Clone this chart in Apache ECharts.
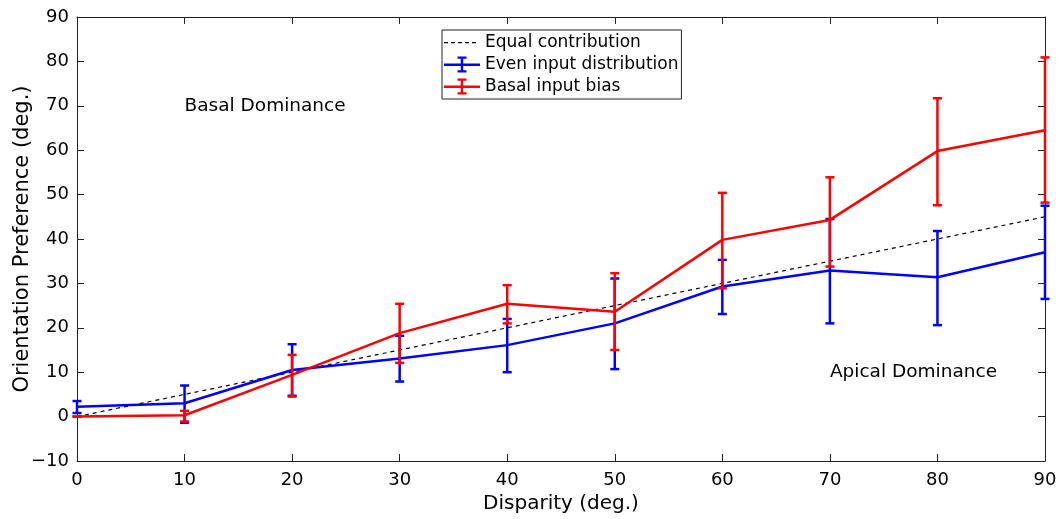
<!DOCTYPE html>
<html>
<head>
<meta charset="utf-8">
<script src="https://cdn.jsdelivr.net/npm/echarts@6/dist/echarts.min.js"></script>
<style>html,body{margin:0;padding:0;background:#fff;}#c{width:1060px;height:519px;}</style>
</head>
<body>
<div id="c"></div>
<script>
var disparity = [0, 10, 20, 30, 40, 50, 60, 70, 80, 90];
var equalLine = [0, 5, 10, 15, 20, 25, 30, 35, 40, 45];
var evenMean = [2.2, 3.0, 10.5, 13.1, 16.1, 21.0, 29.3, 32.9, 31.4, 37.0];
var evenLow  = [0.8, -1.4, 4.7, 7.9, 10.0, 10.7, 23.1, 21.0, 20.6, 26.5];
var evenHigh = [3.5, 7.0, 16.3, 18.2, 22.0, 31.1, 35.3, 44.5, 41.8, 47.5];
var basalMean = [0.0, 0.3, 9.4, 18.8, 25.4, 23.6, 39.8, 44.3, 59.8, 64.5];
var basalLow  = [0.0, -1.1, 4.5, 12.1, 21.0, 15.0, 28.9, 33.8, 47.6, 48.2];
var basalHigh = [0.0, 1.3, 13.9, 25.4, 29.6, 32.3, 50.4, 53.9, 71.7, 80.9];
var annotations = [
  {text: 'Basal Dominance', x: 10, y: 70},
  {text: 'Apical Dominance', x: 70, y: 10}
];

var FONT = 'DejaVu Sans';
function pairs(ys) { return disparity.map(function (x, i) { return [x, ys[i]]; }); }
function errData(lo, hi) { return disparity.map(function (x, i) { return [x, lo[i], hi[i]]; }); }
function errRender(color) {
  return function (params, api) {
    var x = api.value(0);
    var lo = api.coord([x, api.value(1)]);
    var hi = api.coord([x, api.value(2)]);
    var cap = 4.5;
    var st = {stroke: color, lineWidth: 2.5};
    return {
      type: 'group',
      children: [
        {type: 'line', shape: {x1: lo[0], y1: lo[1], x2: hi[0], y2: hi[1]}, style: st},
        {type: 'line', shape: {x1: lo[0] - cap, y1: lo[1], x2: lo[0] + cap, y2: lo[1]}, style: st},
        {type: 'line', shape: {x1: hi[0] - cap, y1: hi[1], x2: hi[0] + cap, y2: hi[1]}, style: st}
      ]
    };
  };
}
var errIcon = 'path://M0,7h36v2.4h-36z M16.8,0h2.4v16h-2.4z M13.5,0h9v2.2h-9z M13.5,13.8h9v2.2h-9z';
var dashIcon = 'path://M0,0h0.01v0.01h-0.01z M35.99,15.99h0.01v0.01h-0.01z M0,7.4h4v1.3h-4z M7,7.4h4v1.3h-4z M14,7.4h4v1.3h-4z M21,7.4h4v1.3h-4z M28,7.4h4v1.3h-4z';
var minus = function (v) { return String(v).replace('-', '\u2212'); };

var axisCommon = {
  axisLine: {show: true, onZero: false, lineStyle: {color: '#222', width: 1}},
  axisTick: {show: true, inside: true, length: 7, lineStyle: {color: '#222'}},
  splitLine: {show: false}
};

var chart = echarts.init(document.getElementById('c'), null, {renderer: 'canvas'});
chart.setOption({
  animation: false,
  backgroundColor: '#fff',
  textStyle: {fontFamily: FONT},
  grid: {left: 77, right: 15, top: 17, bottom: 58, containLabel: false, outerBoundsMode: 'none'},
  legend: {
    left: 442, top: 30, orient: 'vertical',
    backgroundColor: '#fff', borderColor: '#222', borderWidth: 1,
    padding: [4, 3, 4, 2], itemWidth: 36, itemHeight: 16, itemGap: 5,
    textStyle: {fontFamily: FONT, fontSize: 17, color: '#000'},
    data: [
      {name: 'Equal contribution', icon: dashIcon},
      {name: 'Even input distribution', icon: errIcon},
      {name: 'Basal input bias', icon: errIcon}
    ]
  },
  xAxis: [
    Object.assign({type: 'value', min: 0, max: 90, interval: 10, position: 'bottom',
      name: 'Disparity (deg.)', nameLocation: 'middle', nameGap: 33, nameMoveOverlap: false,
      nameTextStyle: {fontFamily: FONT, fontSize: 20, color: '#000'},
      axisLabel: {fontFamily: FONT, fontSize: 18, color: '#000', margin: 10}}, axisCommon),
    Object.assign({type: 'value', min: 0, max: 90, interval: 10, position: 'top',
      axisLabel: {show: false}}, axisCommon)
  ],
  yAxis: [
    Object.assign({type: 'value', min: -10, max: 90, interval: 10, position: 'left',
      name: 'Orientation Preference (deg.)', nameLocation: 'middle', nameGap: 44, nameMoveOverlap: false,
      nameTextStyle: {fontFamily: FONT, fontSize: 21, color: '#000'},
      axisLabel: {fontFamily: FONT, fontSize: 18, color: '#000', margin: 8, formatter: minus}}, axisCommon),
    Object.assign({type: 'value', min: -10, max: 90, interval: 10, position: 'right',
      axisLabel: {show: false}}, axisCommon)
  ],
  series: [
    {
      name: 'Equal contribution', type: 'line', data: pairs(equalLine), symbol: 'none',
      lineStyle: {color: '#000', width: 1.2, type: [4, 4]}, itemStyle: {color: '#000'}, z: 2,
      markPoint: {
        symbol: 'rect', symbolSize: 0,
        label: {show: true, position: 'right', distance: 0, fontFamily: FONT, fontSize: 18.5, color: '#000'},
        data: annotations.map(function (a) { return {coord: [a.x, a.y], value: a.text, label: {formatter: a.text}}; })
      }
    },
    {
      name: 'Even input distribution', type: 'line', data: pairs(evenMean), symbol: 'none',
      lineStyle: {color: '#0000ff', width: 2.5}, itemStyle: {color: '#0000ff'}, z: 3
    },
    {
      name: 'Even input distribution', type: 'custom', data: errData(evenLow, evenHigh),
      renderItem: errRender('#0000ff'), encode: {x: 0, y: [1, 2]}, itemStyle: {color: '#0000ff'}, z: 3
    },
    {
      name: 'Basal input bias', type: 'line', data: pairs(basalMean), symbol: 'none',
      lineStyle: {color: '#ff0000', width: 2.5}, itemStyle: {color: '#ff0000'}, z: 4
    },
    {
      name: 'Basal input bias', type: 'custom', data: errData(basalLow, basalHigh),
      renderItem: errRender('#ff0000'), encode: {x: 0, y: [1, 2]}, itemStyle: {color: '#ff0000'}, z: 4
    }
  ]
});
</script>
</body>
</html>
